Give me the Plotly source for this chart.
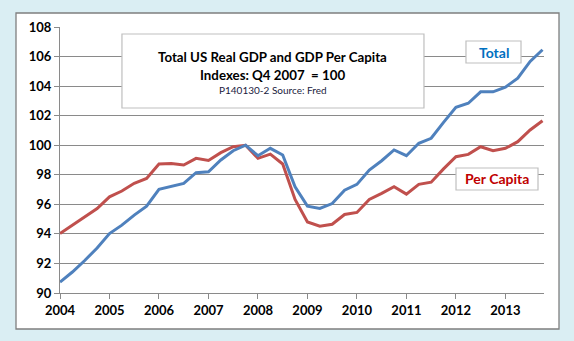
import plotly.graph_objects as go

years = [2004 + i * 0.25 for i in range(40)]
total = [90.74, 91.42, 92.2, 93.05, 94.02, 94.59, 95.27, 95.88, 97.01, 97.23,
         97.42, 98.14, 98.2, 99.0, 99.63, 100.0, 99.29, 99.79, 99.34, 97.19,
         95.88, 95.72, 96.05, 96.96, 97.35, 98.32, 98.95, 99.68, 99.29, 100.13,
         100.47, 101.55, 102.57, 102.84, 103.61, 103.61, 103.93, 104.54, 105.67, 106.46]
per_capita = [94.02, 94.6, 95.15, 95.72, 96.51, 96.9, 97.42, 97.75, 98.73, 98.77,
              98.66, 99.11, 98.97, 99.5, 99.9, 100.0, 99.11, 99.4, 98.73, 96.33,
              94.81, 94.52, 94.65, 95.31, 95.45, 96.33, 96.74, 97.19, 96.69, 97.35,
              97.5, 98.4, 99.22, 99.38, 99.9, 99.63, 99.79, 100.24, 101.03, 101.66]
x_ticks = [2004, 2005, 2006, 2007, 2008, 2009, 2010, 2011, 2012, 2013]
x_labels = [str(v) for v in x_ticks]
y_ticks = [90, 92, 94, 96, 98, 100, 102, 104, 106, 108]

FONT = "Lato"
GRID = "#8a8a8a"

fig = go.Figure()
fig.add_trace(go.Scatter(x=years, y=per_capita, mode="lines", name="Per Capita",
                         line=dict(color="#C0504D", width=3)))
fig.add_trace(go.Scatter(x=years, y=total, mode="lines", name="Total",
                         line=dict(color="#4F81BD", width=3)))

fig.update_layout(
    width=574, height=341,
    margin=dict(l=60, r=30, t=27, b=48),
    paper_bgcolor="#DAEEF3",
    plot_bgcolor="white",
    showlegend=False,
    font=dict(family=FONT, color="black"),
    xaxis=dict(range=[2004, 2013.78], tickvals=x_ticks, ticktext=x_labels,
               showgrid=False, zeroline=False, showline=True, linecolor=GRID, linewidth=1.3,
               ticks="outside", ticklen=5, tickcolor=GRID, tickwidth=1.3,
               tickfont=dict(family=FONT, size=13, color="black", weight="bold")),
    yaxis=dict(range=[90, 108], tickvals=y_ticks, showgrid=True, gridcolor=GRID, gridwidth=1.3,
               zeroline=False, showline=True, linecolor=GRID, linewidth=1.3,
               ticks="outside", ticklen=5, tickcolor=GRID, tickwidth=1.3,
               tickfont=dict(family=FONT, size=13, color="black", weight="bold")),
)

# outer chart box
fig.add_shape(type="rect", xref="paper", yref="paper", x0=-0.0909, x1=1.031, y0=-0.1353, y1=1.0526,
              fillcolor="white", line=dict(color="#7f7f7f", width=1.3), layer="below")

def label(x, y, text, size, color, bold=True):
    fig.add_annotation(xref="paper", yref="paper", x=x, y=y, xanchor="center", yanchor="middle",
                       showarrow=False, text=text,
                       font=dict(family=FONT, size=size, color=color,
                                 weight="bold" if bold else "normal"))

# title box
fig.add_shape(type="rect", xref="paper", yref="paper", x0=0.128, x1=0.752, y0=0.6955, y1=0.9737,
              fillcolor="white", line=dict(color="#BFBFBF", width=1.2), layer="above")
label(0.44, 0.887, "Total US Real GDP and GDP Per Capita", 13.3, "black")
label(0.44, 0.820, "Indexes: Q4 2007  = 100", 13.3, "black")
label(0.44, 0.763, "P140130-2 Source: Fred", 10, "#1a1a40", bold=False)

# series labels
fig.add_shape(type="rect", xref="paper", yref="paper", x0=0.8388, x1=0.9525, y0=0.8647, y1=0.9474,
              fillcolor="white", line=dict(color="#BFBFBF", width=1.2), layer="above")
label(0.8957, 0.906, "Total", 14, "#0070C0")
fig.add_shape(type="rect", xref="paper", yref="paper", x0=0.8182, x1=0.9876, y0=0.3872, y1=0.4699,
              fillcolor="white", line=dict(color="#BFBFBF", width=1.2), layer="above")
label(0.903, 0.4286, "Per Capita", 14, "#C00000")

fig.write_html("out.html")
